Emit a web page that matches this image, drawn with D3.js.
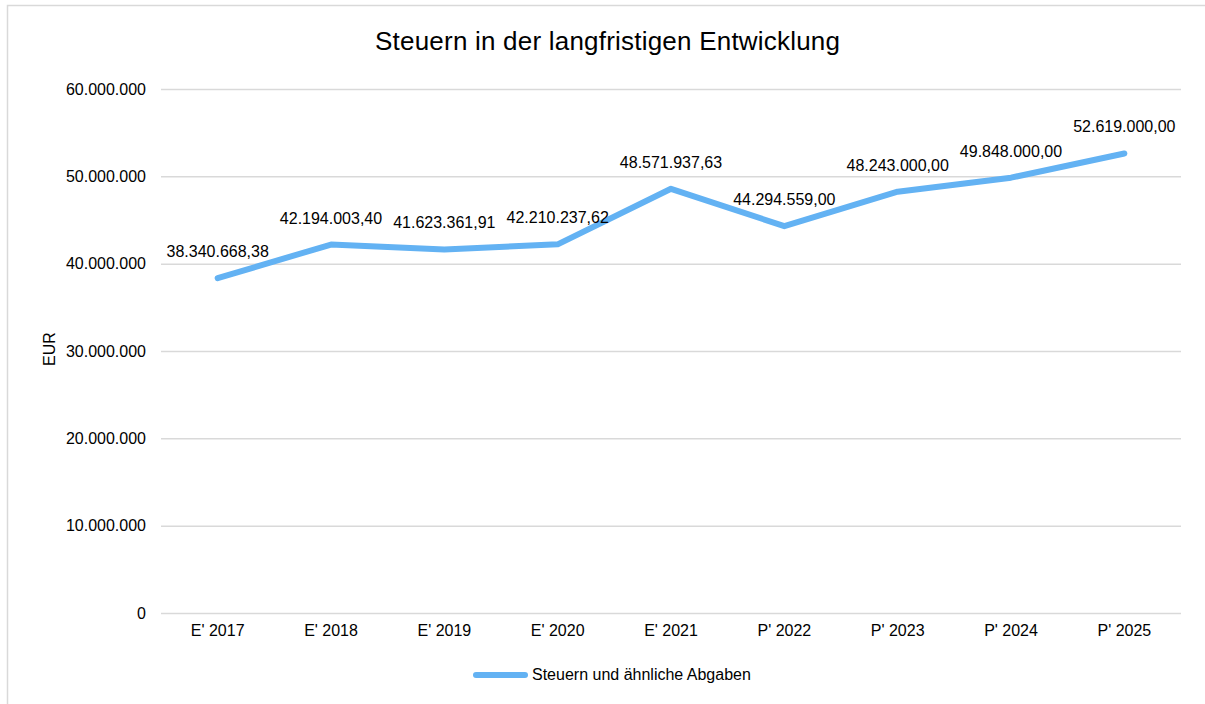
<!DOCTYPE html>
<html>
<head>
<meta charset="utf-8">
<script src="https://cdn.jsdelivr.net/npm/d3@7"></script>
<style>
  html, body { margin: 0; padding: 0; background: #fff; }
  svg { display: block; font-family: "Liberation Sans", Arial, sans-serif; }
</style>
</head>
<body>
<svg id="chart" width="1205" height="704"></svg>
<script>
const categories = ["E' 2017", "E' 2018", "E' 2019", "E' 2020", "E' 2021", "P' 2022", "P' 2023", "P' 2024", "P' 2025"];
const values = [38340668.38, 42194003.40, 41623361.91, 42210237.62, 48571937.63, 44294559.00, 48243000.00, 49848000.00, 52619000.00];
const labels = ["38.340.668,38", "42.194.003,40", "41.623.361,91", "42.210.237,62", "48.571.937,63", "44.294.559,00", "48.243.000,00", "49.848.000,00", "52.619.000,00"];
const yTicks = [0, 10000000, 20000000, 30000000, 40000000, 50000000, 60000000];
const seriesName = "Steuern und ähnliche Abgaben";
const title = "Steuern in der langfristigen Entwicklung";
const yTitle = "EUR";

const svg = d3.select("#chart");
const W = 1205, H = 704;
const m = { left: 161, right: 1181, top: 89, bottom: 613 };

// outer frame
svg.append("rect").attr("x", 7.5).attr("y", 5.5).attr("width", W + 10).attr("height", H + 10)
  .attr("fill", "#fff").attr("stroke", "#d9d9d9").attr("stroke-width", 1.5);

const x = d3.scaleBand().domain(categories).range([m.left, m.right]);
const y = d3.scaleLinear().domain([0, 60000000]).range([m.bottom, m.top]);
const fmt = v => d3.format(",")(v).replace(/,/g, ".");

// grid
const yAxis = d3.axisLeft(y).tickValues(yTicks).tickSize(-(m.right - m.left)).tickPadding(15).tickFormat(fmt);
const gy = svg.append("g").attr("transform", `translate(${m.left},0)`).call(yAxis);
gy.select(".domain").remove();
gy.selectAll(".tick line").attr("stroke", "#d9d9d9").attr("stroke-width", 1.5);
gy.selectAll(".tick text").attr("fill", "#000").attr("font-size", 16).attr("font-family", "Liberation Sans, Arial, sans-serif");

const xAxis = d3.axisBottom(x).tickSize(0).tickPadding(12);
const gx = svg.append("g").attr("transform", `translate(0,${m.bottom})`).call(xAxis);
gx.select(".domain").remove();
gx.selectAll(".tick text").attr("fill", "#000").attr("font-size", 16).attr("font-family", "Liberation Sans, Arial, sans-serif");

// line
const color = "#63b2f3";
const line = d3.line().x((d, i) => x(categories[i]) + x.bandwidth() / 2).y(d => y(d));
svg.append("path").datum(values).attr("d", line).attr("fill", "none")
  .attr("stroke", color).attr("stroke-width", 6).attr("stroke-linejoin", "round").attr("stroke-linecap", "round");

// data labels
svg.append("g").selectAll("text").data(values).join("text")
  .attr("x", (d, i) => x(categories[i]) + x.bandwidth() / 2)
  .attr("y", d => y(d) - 21)
  .attr("text-anchor", "middle").attr("font-size", 16).attr("fill", "#000")
  .text((d, i) => labels[i]);

// title
svg.append("text").attr("x", 607.5).attr("y", 50).attr("text-anchor", "middle")
  .attr("font-size", 26).attr("textLength", 465).attr("fill", "#000").text(title);

// y title
svg.append("text").attr("transform", "translate(55,349) rotate(-90)").attr("text-anchor", "middle")
  .attr("font-size", 16).attr("fill", "#000").text(yTitle);

// legend
svg.append("line").attr("x1", 476).attr("x2", 525).attr("y1", 675).attr("y2", 675)
  .attr("stroke", color).attr("stroke-width", 6).attr("stroke-linecap", "round");
svg.append("text").attr("x", 532).attr("y", 680).attr("font-size", 16).attr("fill", "#000").text(seriesName);
</script>
</body>
</html>
